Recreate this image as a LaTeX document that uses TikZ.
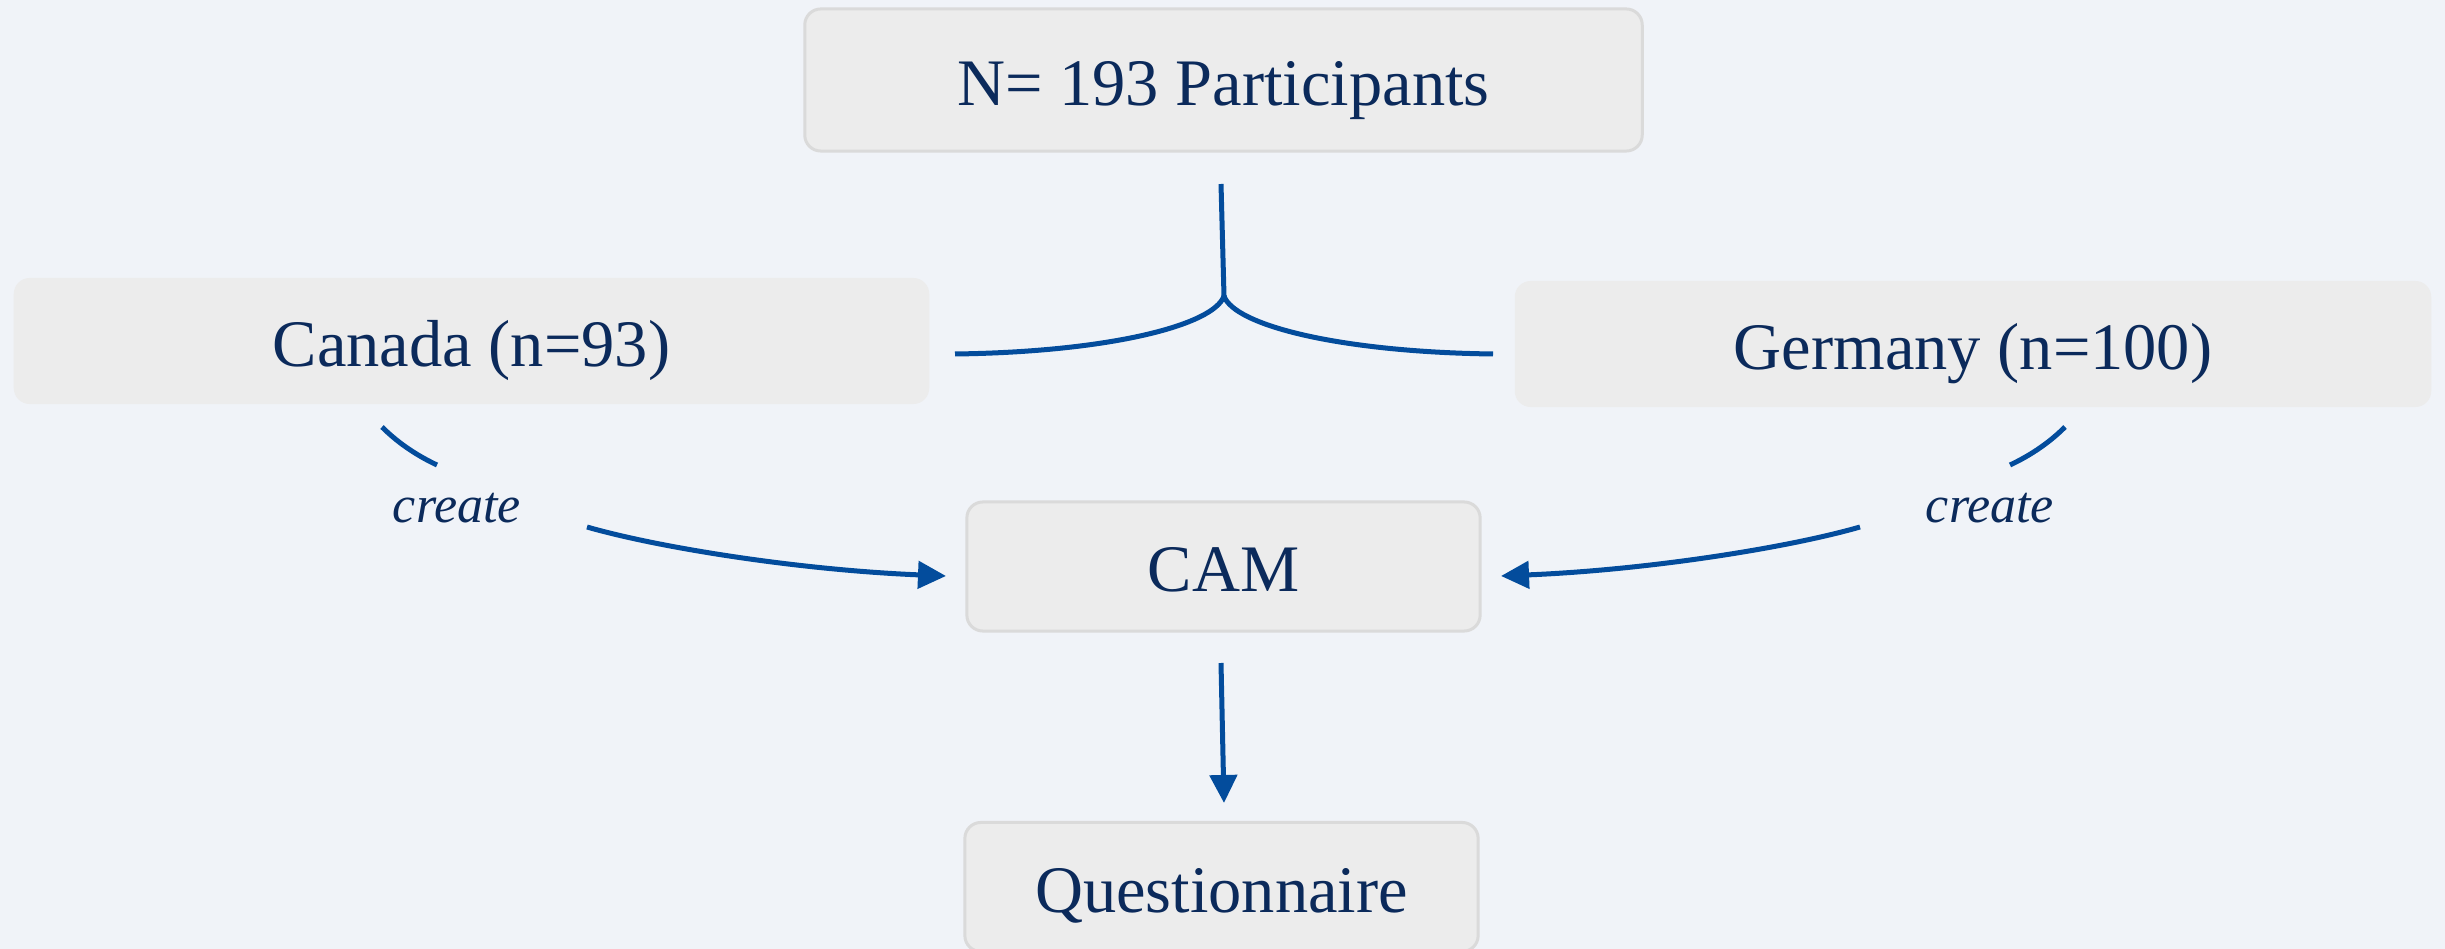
\documentclass[tikz,border=0pt]{standalone}
\usepackage{fontspec}
\setmainfont{Liberation Serif}
\usetikzlibrary{arrows.meta}
\definecolor{bg}{HTML}{F0F3F8}
\definecolor{boxfill}{HTML}{ECECEC}
\definecolor{boxline}{HTML}{DADADA}
\definecolor{ink}{HTML}{0B2A5B}
\definecolor{flow}{HTML}{034C9C}

\begin{document}
\begin{tikzpicture}[x=0.01cm,y=-0.01cm,
  box/.style={rectangle, rounded corners=0.16cm, fill=boxfill, text=ink,
    font=\fontsize{18.9}{22}\selectfont, text height=0.5cm, text depth=0pt, inner sep=0pt},
  framed/.style={box, draw=boxline, line width=0.03cm},
  lbl/.style={text=ink, font=\fontsize{14.8}{18}\selectfont\itshape, inner sep=0pt, anchor=base},
  link/.style={draw=flow, line width=0.05cm},
  arr/.style={link, -{Triangle[length=0.28cm,width=0.27cm]}}]

\useasboundingbox (0,0) rectangle (2445,949);
\clip (0,0) rectangle (2445,949);
\fill[bg] (0,0) rectangle (2445,949);

% boxes
\node[framed, minimum width=8.37cm, minimum height=1.42cm] (top) at (1223.5,80) {N= 193 Participants};
\node[box, minimum width=9.15cm, minimum height=1.26cm] (canada) at (471.5,341) {Canada (n=93)};
\node[box, minimum width=9.16cm, minimum height=1.26cm] (germany) at (1973,344) {Germany (n=100)};
\node[framed, minimum width=5.13cm, minimum height=1.29cm] (cam) at (1223.5,566.5) {CAM};
\node[framed, minimum width=5.13cm, minimum height=1.29cm] (quest) at (1221.5,887) {Questionnaire};

% edge labels
\node[lbl] (lblC) at (457,523) {create};
\node[lbl] (lblG) at (1990,523) {create};

% split from the total sample into the two countries
\coordinate (stem) at (1221,184);
\coordinate (fork) at (1224,296);
\coordinate (forkL) at (955,354);
\coordinate (forkR) at (1493,354);
\draw[link] (stem) -- (fork);
\draw[link] (fork) .. controls (1214,325) and (1110,352) .. (forkL);
\draw[link] (fork) .. controls (1234,325) and (1338,352) .. (forkR);

% Canada -> CAM
\coordinate (cA) at (382,427);
\coordinate (cB) at (437,465);
\coordinate (cC) at (587,527);
\coordinate (cD) at (946,576);
\draw[link] (cA) .. controls (400,445) and (420,457) .. (cB);
\draw[arr] (cC) .. controls (660,548) and (800,570) .. (cD);

% Germany -> CAM
\coordinate (gA) at (2065,427);
\coordinate (gB) at (2010,465);
\coordinate (gC) at (1860,527);
\coordinate (gD) at (1501,576);
\draw[link] (gA) .. controls (2047,445) and (2027,457) .. (gB);
\draw[arr] (gC) .. controls (1787,548) and (1647,570) .. (gD);

% CAM -> Questionnaire
\coordinate (qA) at (1221,663);
\coordinate (qB) at (1224,803);
\draw[arr] (qA) -- (qB);
\end{tikzpicture}
\end{document}
